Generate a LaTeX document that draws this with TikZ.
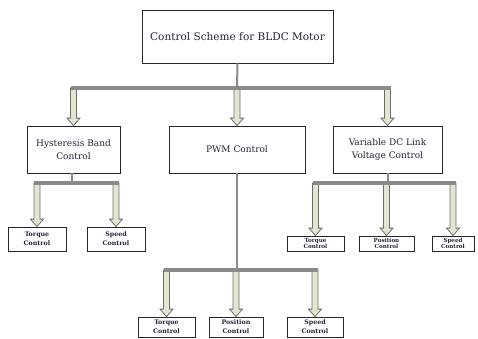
\documentclass[tikz,border=0pt]{standalone}
\usepackage{fontspec}
\setmainfont{DejaVu Serif}
\usetikzlibrary{calc}
\definecolor{arrowfill}{RGB}{226,230,208}
\definecolor{arrowline}{RGB}{110,110,110}
\definecolor{barcol}{RGB}{138,138,138}
\definecolor{labelcol}{RGB}{35,35,60}

% block arrow from a bar level down to a box
\newcommand{\blockdown}[2]{%
  \draw[blockarrow] let \p1=(#1.north |- #2), \p2=(#1.north) in
    (\x1-3pt,\y1) -- (\x1-3pt,\y2+7.5pt) -- (\x1-6.5pt,\y2+7.5pt) -- (\x1,\y2)
    -- (\x1+6.5pt,\y2+7.5pt) -- (\x1+3pt,\y2+7.5pt) -- (\x1+3pt,\y1) -- cycle;}

\begin{document}
\begin{tikzpicture}[x=1pt,y=-1pt,
    box/.style={draw=black!85, line width=0.8pt, fill=white, text=labelcol, align=center, inner sep=0pt},
    mainbox/.style={box, minimum width=191pt, minimum height=53pt, font=\fontsize{10.5}{12}\selectfont},
    midbox/.style={box, minimum height=47pt, font=\fontsize{9}{13}\selectfont},
    leafbox/.style={box, font=\bfseries\fontsize{6.3}{9}\selectfont},
    smallleaf/.style={leafbox, minimum height=15pt, font=\bfseries\fontsize{5.6}{6.4}\selectfont},
    bar/.style={draw=barcol, line width=4pt},
    stem/.style={draw=barcol, line width=2pt},
    blockarrow/.style={draw=arrowline, fill=arrowfill, line width=0.8pt, line join=miter}
]
\useasboundingbox (0,0) rectangle (478,338);

% boxes
\node[mainbox] (scheme) at (237.5,36.5) {Control Scheme for BLDC Motor};
\node[midbox, minimum width=93pt] (hyst) at (73.5,149.5) {Hysteresis Band\\Control};
\node[midbox, minimum width=136pt] (pwm) at (237,149.5) {PWM Control};
\node[midbox, minimum width=109pt] (vdc) at (387.5,149.5) {Variable DC Link\\Voltage Control};

\node[leafbox, minimum width=58pt, minimum height=24pt] (htorque) at (37,239) {Torque\\Control};
\node[leafbox, minimum width=58pt, minimum height=24pt] (hspeed) at (116,239) {Speed\\Control};

\node[smallleaf, minimum width=57pt] (vtorque) at (315.5,243.5) {Torque\\Control};
\node[smallleaf, minimum width=55pt] (vpos) at (386.5,243.5) {Position\\Control};
\node[smallleaf, minimum width=42pt] (vspeed) at (453,243.5) {Speed\\Control};

\node[leafbox, minimum width=57pt, minimum height=20pt] (ptorque) at (166.5,327) {Torque\\Control};
\node[leafbox, minimum width=54pt, minimum height=20pt] (ppos) at (236,327) {Position\\Control};
\node[leafbox, minimum width=56pt, minimum height=20pt] (pspeed) at (315,327) {Speed\\Control};

% bar levels
\coordinate (topbar) at (237,88);
\coordinate (hbar) at (72,183);
\coordinate (vbar) at (388,183);
\coordinate (pbar) at (237,270);

% arrows
\foreach \bx in {hyst,pwm,vdc} {\blockdown{\bx}{topbar}}
\foreach \bx in {htorque,hspeed} {\blockdown{\bx}{hbar}}
\foreach \bx in {vtorque,vpos,vspeed} {\blockdown{\bx}{vbar}}
\foreach \bx in {ptorque,ppos,pspeed} {\blockdown{\bx}{pbar}}

% bars
\draw[bar] ([xshift=-3pt]hyst.north |- topbar) -- ([xshift=3pt]vdc.north |- topbar);
\draw[bar, line width=3.5pt] ([xshift=-3pt]htorque.north |- hbar) -- ([xshift=3pt]hspeed.north |- hbar);
\draw[bar, line width=3.5pt] ([xshift=-3pt]vtorque.north |- vbar) -- ([xshift=3pt]vspeed.north |- vbar);
\draw[bar, line width=3.5pt] ([xshift=-3pt]ptorque.north |- pbar) -- ([xshift=3pt]pspeed.north |- pbar);

% stems
\draw[stem] (scheme.south) -- (topbar);
\draw[stem] (hyst.south -| hbar) -- (hbar);
\draw[stem] (vdc.south -| vbar) -- (vbar);
\draw[stem] (pwm.south) -- (pbar);
\end{tikzpicture}
\end{document}
